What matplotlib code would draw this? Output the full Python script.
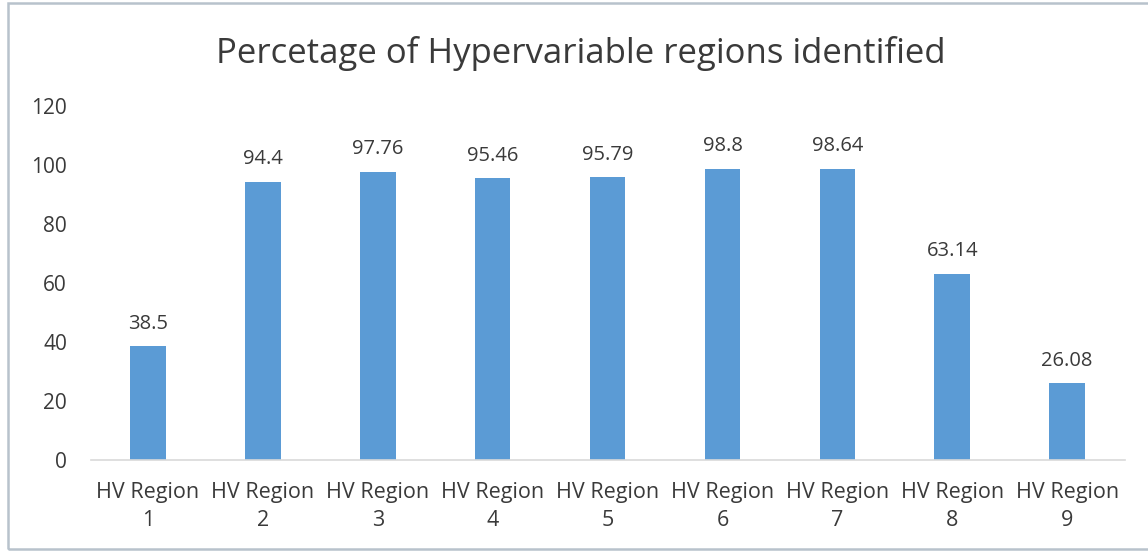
import matplotlib.pyplot as plt
from matplotlib.patches import Rectangle

categories = ["HV Region\n1", "HV Region\n2", "HV Region\n3", "HV Region\n4",
              "HV Region\n5", "HV Region\n6", "HV Region\n7", "HV Region\n8",
              "HV Region\n9"]
percentages = [38.5, 94.4, 97.76, 95.46, 95.79, 98.8, 98.64, 63.14, 26.08]
value_labels = ["38.5", "94.4", "97.76", "95.46", "95.79", "98.8", "98.64", "63.14", "26.08"]
y_ticks = [0, 20, 40, 60, 80, 100, 120]

plt.rcParams["font.family"] = ["Open Sans", "DejaVu Sans"]

fig = plt.figure(figsize=(11.48, 5.52), dpi=100)
ax = fig.add_axes([0.0789, 0.1667, 0.9007, 0.6413])

bar_blue = "#5b9bd5"
text_dark = "#3a3a3a"

x = list(range(len(categories)))
ax.bar(x, percentages, width=0.31, color=bar_blue)

# value labels above each bar
for xi, v, lab in zip(x, percentages, value_labels):
    ax.annotate(lab, (xi, v), xytext=(0, 9), textcoords="offset points",
                ha="center", va="bottom", fontsize=14.5, color=text_dark)

ax.set_xlim(-0.5, len(categories) - 0.5)
ax.set_ylim(0, 120)
ax.set_yticks(y_ticks)
ax.set_xticks(x)
ax.set_xticklabels(categories, fontsize=15.5, color=text_dark, linespacing=1.4)
ax.tick_params(axis="y", labelsize=15, labelcolor=text_dark, length=0, pad=17)
ax.tick_params(axis="x", length=0, pad=16)

for side in ["top", "right", "left"]:
    ax.spines[side].set_visible(False)
ax.spines["bottom"].set_color("#d9d9d9")
ax.spines["bottom"].set_linewidth(1.2)

fig.text(0.506, 0.903, "Percetage of Hypervariable regions identified",
         ha="center", va="center", fontsize=25, color=text_dark)

# outer chart border
fig.patches.append(Rectangle((8 / 1148, 3 / 552), 1.0, 546 / 552,
                             transform=fig.transFigure, fill=False,
                             edgecolor="#b8c2cc", linewidth=1.8))

plt.savefig("out.png", dpi=100)
